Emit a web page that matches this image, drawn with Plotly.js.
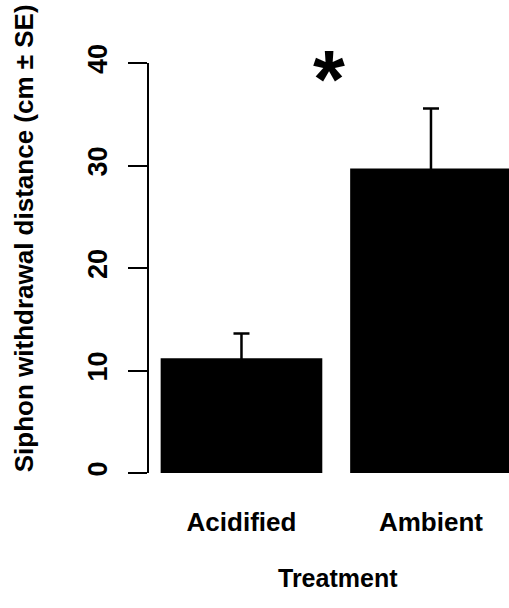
<!DOCTYPE html>
<html>
<head>
<meta charset="utf-8">
<script src="https://cdn.plot.ly/plotly-3.0.1.min.js"></script>
<style>
  html, body { margin: 0; padding: 0; background: #fff; overflow: hidden; }
  #chart { width: 509px; height: 608px; }
</style>
</head>
<body>
<div id="chart"></div>
<script>
// Siphon withdrawal distance by treatment (mean ± SE)
const treatments = ["Acidified", "Ambient"];
const meanDistance = [11.2, 29.7];
const seDistance = [2.4, 5.85];
const yTickValues = [0, 10, 20, 30, 40];
const yTickLabels = ["0", "10", "20", "30", "40"];

const FONT = "Liberation Sans, Arial, Helvetica, sans-serif";

// Black bars; the lower half of each SE whisker falls inside its bar and stays hidden
const bars = {
  type: "bar",
  x: treatments,
  y: meanDistance,
  width: 0.853,
  marker: { color: "#000", line: { width: 0 } },
  error_y: {
    type: "data",
    array: seDistance,
    color: "#000",
    thickness: 2.5,
    width: 8
  },
  hoverinfo: "skip"
};

const layout = {
  width: 509,
  height: 608,
  margin: { l: 149, r: 0, t: 63, b: 135, pad: 0 },
  paper_bgcolor: "#fff",
  plot_bgcolor: "#fff",
  showlegend: false,
  font: { family: FONT, color: "#000", size: 26, weight: "bold" },
  xaxis: {
    type: "category",
    range: [-0.488, 1.4117],
    showline: false,
    zeroline: false,
    showgrid: false,
    ticks: "",
    ticklabelstandoff: 31,
    tickfont: { family: FONT, size: 26, weight: "bold", color: "#000" }
  },
  yaxis: {
    range: [0, 40],
    tickvals: yTickValues,
    ticktext: yTickLabels,
    showline: true,
    linecolor: "#000",
    linewidth: 2,
    zeroline: false,
    showgrid: false,
    ticks: "outside",
    ticklen: 19,
    tickwidth: 2,
    tickcolor: "#000",
    tickangle: -90,
    ticklabelstandoff: 10,
    tickfont: { family: FONT, size: 27, weight: "bold", color: "#000" }
  },
  annotations: [
    {
      text: "Siphon withdrawal distance (cm ± SE)",
      xref: "paper", yref: "paper",
      x: -0.345, y: 0.572,
      xanchor: "center", yanchor: "middle",
      textangle: -90,
      showarrow: false,
      font: { family: FONT, size: 26, weight: "bold", color: "#000" }
    },
    {
      text: "Treatment",
      xref: "paper", yref: "paper",
      x: 0.524, y: -0.257,
      xanchor: "center", yanchor: "middle",
      showarrow: false,
      font: { family: FONT, size: 25, weight: "bold", color: "#000" }
    },
    {
      text: "*",
      xref: "paper", yref: "paper",
      x: 0.5, y: 0.962,
      xanchor: "center", yanchor: "middle",
      showarrow: false,
      font: { family: FONT, size: 82, weight: "bold", color: "#000" }
    }
  ]
};

Plotly.newPlot("chart", [bars], layout, { staticPlot: true, displayModeBar: false });
</script>
</body>
</html>
